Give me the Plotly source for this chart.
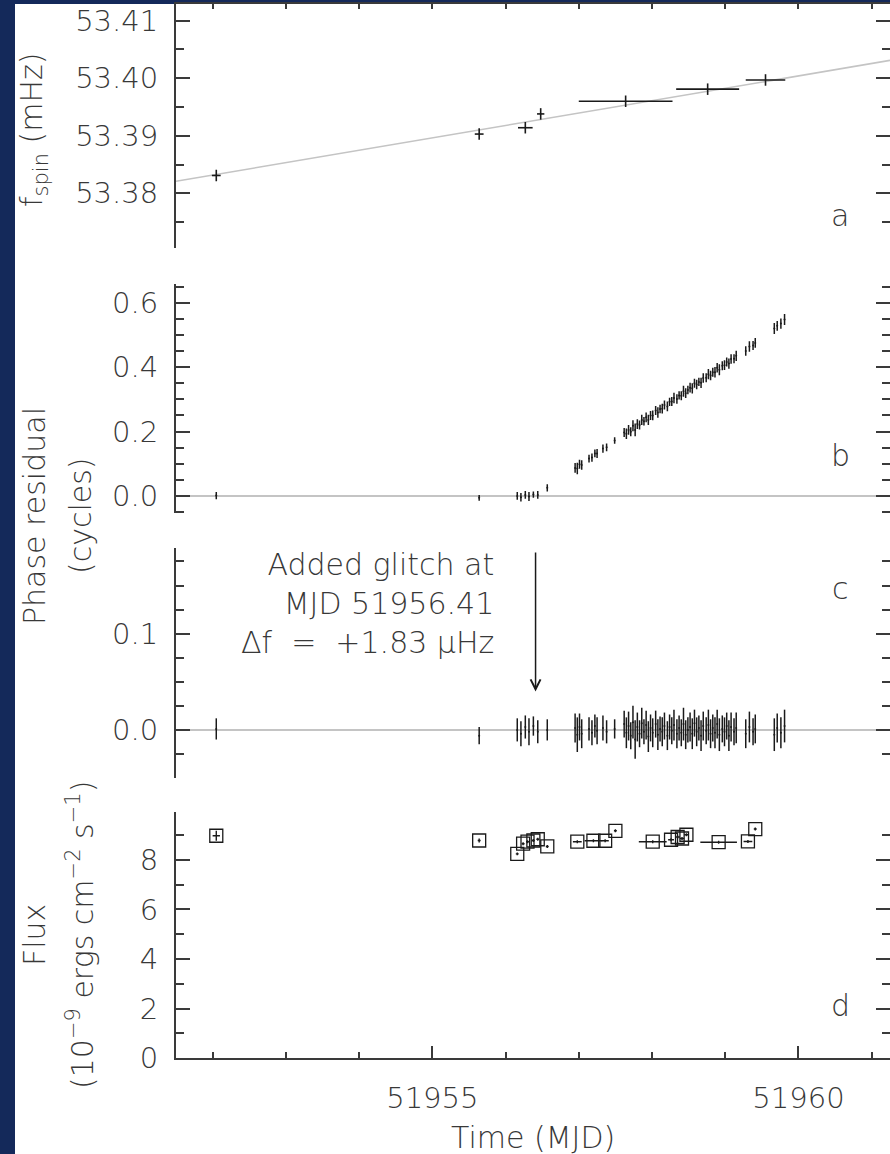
import plotly.graph_objects as go

W, H = 890, 1154

# ---------------- data ----------------
# panel a: spin frequency (mHz)
fs_t = [51952.05, 51955.64, 51956.27, 51956.48, 51957.64, 51958.76, 51959.55]
fs_f = [53.3831, 53.3903, 53.3914, 53.3938, 53.3960, 53.3981, 53.3997]
fs_terr = [0.06, 0.06, 0.10, 0.05, 0.64, 0.43, 0.27]
fs_ferr = [0.0010, 0.0010, 0.0010, 0.0010, 0.0010, 0.0010, 0.0010]
fit_t = [51951.5, 51961.25]
fit_f = [53.3821, 53.4031]

# panels b, c: phase residuals (cycles)
ph_t = [51952.05, 51955.64, 51956.16, 51956.21, 51956.27, 51956.32, 51956.38, 51956.44,
        51956.57, 51956.95, 51956.98, 51957.01, 51957.04, 51957.14, 51957.18, 51957.22,
        51957.25, 51957.33, 51957.38, 51957.49, 51957.62, 51957.65, 51957.68, 51957.71,
        51957.74, 51957.77, 51957.80, 51957.83, 51957.86, 51957.89, 51957.92, 51957.95,
        51957.98, 51958.01, 51958.05, 51958.08, 51958.11, 51958.14, 51958.17, 51958.21,
        51958.24, 51958.27, 51958.30, 51958.34, 51958.37, 51958.40, 51958.43, 51958.46,
        51958.49, 51958.52, 51958.55, 51958.58, 51958.61, 51958.64, 51958.67, 51958.70,
        51958.74, 51958.77, 51958.80, 51958.83, 51958.86, 51958.89, 51958.92, 51958.96,
        51958.99, 51959.02, 51959.05, 51959.08, 51959.12, 51959.15, 51959.28, 51959.33,
        51959.38, 51959.41, 51959.67, 51959.71, 51959.76, 51959.81]
ph_before = [0.001, -0.006, 0.000, -0.004, 0.003, -0.002, 0.004, 0.003,
             0.025, 0.087, 0.085, 0.098, 0.096, 0.116, 0.119, 0.132,
             0.132, 0.147, 0.151, 0.172, 0.197, 0.193, 0.205, 0.199,
             0.218, 0.205, 0.223, 0.220, 0.236, 0.232, 0.244, 0.236,
             0.250, 0.250, 0.265, 0.259, 0.270, 0.271, 0.282, 0.278,
             0.292, 0.293, 0.304, 0.301, 0.312, 0.311, 0.325, 0.319,
             0.329, 0.336, 0.334, 0.350, 0.346, 0.354, 0.351, 0.366,
             0.367, 0.378, 0.374, 0.384, 0.384, 0.398, 0.392, 0.404,
             0.406, 0.416, 0.411, 0.425, 0.426, 0.435, 0.450, 0.464,
             0.467, 0.475, 0.520, 0.528, 0.535, 0.548]
ph_after = [0.001, -0.006, 0.000, -0.004, 0.003, -0.002, 0.004, -0.002,
            0.000, 0.002, -0.005, 0.003, -0.004, 0.001, -0.003, 0.004,
            -0.001, 0.002, -0.002, 0.001, 0.006, -0.003, 0.004, -0.006,
            0.008, -0.010, 0.003, -0.004, 0.007, -0.002, 0.005, -0.007,
            0.002, -0.003, 0.006, -0.005, 0.001, -0.002, 0.004, -0.006,
            0.003, -0.001, 0.005, -0.004, 0.002, -0.003, 0.006, -0.005,
            0.000, 0.003, -0.004, 0.007, -0.002, 0.002, -0.006, 0.004,
            -0.001, 0.005, -0.004, 0.002, -0.003, 0.006, -0.005, 0.001,
            -0.002, 0.004, -0.006, 0.003, -0.002, 0.002, -0.004, 0.003,
            -0.002, 0.001, -0.005, 0.002, -0.003, 0.004]
ph_err = [0.011, 0.009, 0.012, 0.013, 0.012, 0.014, 0.010, 0.012,
          0.011, 0.015, 0.018, 0.014, 0.015, 0.012, 0.013, 0.012,
          0.014, 0.013, 0.012, 0.010, 0.014, 0.016, 0.015, 0.014,
          0.017, 0.020, 0.015, 0.014, 0.016, 0.013, 0.015, 0.016,
          0.014, 0.015, 0.014, 0.016, 0.013, 0.015, 0.014, 0.015,
          0.013, 0.014, 0.016, 0.015, 0.013, 0.014, 0.017, 0.015,
          0.013, 0.015, 0.016, 0.014, 0.015, 0.013, 0.016, 0.015,
          0.014, 0.016, 0.015, 0.014, 0.016, 0.015, 0.017, 0.014,
          0.015, 0.014, 0.016, 0.015, 0.014, 0.016, 0.015, 0.016,
          0.014, 0.015, 0.017, 0.015, 0.016, 0.017]
zero_line = [0.0, 0.0]

# glitch
glitch_t = 51956.41
glitch_text = ["Added glitch at", "MJD 51956.41", "\u0394f  =  +1.83 \u03bcHz"]

# panel d: flux (1e-9 erg cm^-2 s^-1)
flux_t = [51952.05, 51955.64, 51956.16, 51956.24, 51956.30, 51956.38, 51956.44, 51956.57,
          51956.98, 51957.20, 51957.36, 51957.50, 51958.01, 51958.26, 51958.35, 51958.41,
          51958.47, 51958.91, 51959.31, 51959.41]
flux = [8.97, 8.78, 8.24, 8.65, 8.73, 8.78, 8.83, 8.54,
        8.73, 8.77, 8.77, 9.17, 8.73, 8.81, 8.92, 8.86,
        9.01, 8.71, 8.74, 9.24]
flux_terr = [0.05, 0.02, 0.02, 0.02, 0.02, 0.02, 0.02, 0.02,
             0.06, 0.12, 0.05, 0.02, 0.19, 0.04, 0.03, 0.03,
             0.03, 0.25, 0.06, 0.02]
flux_err = [0.20, 0.08, 0.06, 0.06, 0.06, 0.06, 0.06, 0.06,
            0.06, 0.06, 0.06, 0.06, 0.06, 0.06, 0.06, 0.06,
            0.06, 0.06, 0.06, 0.06]

# axes / ticks
x_range = [51951.5, 51961.25]
x_major = [51955, 51960]
x_minor = [51952, 51953, 51954, 51956, 51957, 51958, 51959, 51961]
x_top = [51952, 51953, 51954, 51955, 51956, 51957, 51958, 51959, 51960, 51961]

ya_range = [53.3705, 53.4129]
ya_major = [53.38, 53.39, 53.40, 53.41]
ya_minor = [53.375, 53.385, 53.395, 53.405]
yb_range = [-0.054, 0.658]
yb_major = [0.0, 0.2, 0.4, 0.6]
yb_minor = [-0.05, 0.05, 0.1, 0.15, 0.25, 0.3, 0.35, 0.45, 0.5, 0.55, 0.65]
yc_range = [-0.05, 0.189]
yc_major = [0.0, 0.1]
yc_minor = [-0.025, 0.025, 0.05, 0.075, 0.125, 0.15, 0.175]
yd_range = [0, 9.94]
yd_major = [0, 2, 4, 6, 8]
yd_minor = [1, 3, 5, 7, 9]

# ---------------- style ----------------
NAVY = "#14295a"
AX = "#3a3a3a"
TXT = "#383838"
FONT = "DejaVu Sans"
FW = 200
FS = 29      # tick labels
FS2 = 30     # titles / annotations
MARK = "#1a1a1a"
GRAY = "#c4c4c4"

def py(p):
    return 1 - p / H

def px(p):
    return p / W

xdom = [px(176), 1.0]
doms = {
    "a": [py(248), py(4)],
    "b": [py(513.3), py(284)],
    "c": [py(778), py(548)],
    "d": [py(1058.3), py(811.7)],
}

fig = go.Figure()

# panel a
fig.add_trace(go.Scatter(x=fit_t, y=fit_f, mode="lines", line=dict(color=GRAY, width=1.6),
                         xaxis="x", yaxis="y", hoverinfo="skip"))
fig.add_trace(go.Scatter(x=fs_t, y=fs_f, mode="markers", marker=dict(size=1, color=MARK),
                         error_x=dict(type="data", array=fs_terr, width=0, thickness=1.6, color=MARK),
                         error_y=dict(type="data", array=fs_ferr, width=0, thickness=1.6, color=MARK),
                         xaxis="x", yaxis="y"))
# panel b
fig.add_trace(go.Scatter(x=x_range, y=zero_line, mode="lines", line=dict(color=GRAY, width=2),
                         xaxis="x2", yaxis="y2", hoverinfo="skip"))
fig.add_trace(go.Scatter(x=ph_t, y=ph_before, mode="markers", marker=dict(size=2, color=MARK),
                         error_y=dict(type="data", array=ph_err, width=0, thickness=1.5, color=MARK),
                         xaxis="x2", yaxis="y2"))
# panel c
fig.add_trace(go.Scatter(x=x_range, y=zero_line, mode="lines", line=dict(color=GRAY, width=2),
                         xaxis="x3", yaxis="y3", hoverinfo="skip"))
fig.add_trace(go.Scatter(x=ph_t, y=ph_after, mode="markers", marker=dict(size=2, color=MARK),
                         error_y=dict(type="data", array=ph_err, width=0, thickness=1.5, color=MARK),
                         xaxis="x3", yaxis="y3"))
# panel d
fig.add_trace(go.Scatter(x=flux_t, y=flux, mode="markers",
                         marker=dict(symbol="square-open", size=13, color=MARK, line=dict(width=1.3)),
                         error_x=dict(type="data", array=flux_terr, width=0, thickness=1.4, color=MARK),
                         error_y=dict(type="data", array=flux_err, width=0, thickness=1.4, color=MARK),
                         xaxis="x4", yaxis="y4"))
# right-side mirror tick axes (empty traces)
for i in range(5, 9):
    fig.add_trace(go.Scatter(x=[], y=[], xaxis="x" if i == 5 else f"x{i-4}", yaxis=f"y{i}",
                             showlegend=False, hoverinfo="skip"))

tickfont = dict(family=FONT, size=FS, color=TXT, weight=FW)

def yax(dom, rng, major, minor, fmt, anchor):
    return dict(domain=dom, range=rng, anchor=anchor, showgrid=False, zeroline=False,
                showline=True, linecolor=AX, linewidth=2, ticks="inside", tickcolor=AX,
                tickwidth=1.6, ticklen=14, tickvals=major, ticktext=[fmt.format(v) for v in major],
                tickfont=tickfont, ticklabelstandoff=10, automargin=False, fixedrange=True,
                minor=dict(tickvals=minor, ticks="inside", ticklen=8, tickwidth=1.6, tickcolor=AX))

def yax_r(over, rng, major, minor, anchor):
    return dict(overlaying=over, side="right", range=rng, anchor=anchor, showgrid=False,
                zeroline=False, showline=False, ticks="inside", tickcolor=AX, tickwidth=1.6,
                ticklen=14, tickvals=major, showticklabels=False, automargin=False,
                minor=dict(tickvals=minor, ticks="inside", ticklen=8, tickwidth=1.6, tickcolor=AX))

def xax_hidden(anchor):
    return dict(domain=xdom, range=x_range, anchor=anchor, showgrid=False, zeroline=False,
                showline=False, ticks="", showticklabels=False, automargin=False, fixedrange=True)

layout = dict(
    width=W, height=H, margin=dict(l=0, r=0, t=0, b=0, pad=0),
    paper_bgcolor=NAVY, plot_bgcolor="rgba(0,0,0,0)", showlegend=False,
    font=dict(family=FONT, size=FS, color=TXT, weight=FW),
    xaxis=dict(domain=xdom, range=x_range, anchor="y", side="top", showgrid=False, zeroline=False,
               showline=True, linecolor=AX, linewidth=2, ticks="inside", ticklen=5, tickwidth=1.6,
               tickcolor=AX, tickvals=x_top, showticklabels=False, automargin=False, fixedrange=True),
    xaxis2=xax_hidden("y2"),
    xaxis3=xax_hidden("y3"),
    xaxis4=dict(domain=xdom, range=x_range, anchor="y4", side="bottom", showgrid=False, zeroline=False,
                showline=True, linecolor=AX, linewidth=2, ticks="inside", ticklen=12, tickwidth=1.6,
                tickcolor=AX, tickvals=x_major, ticktext=[str(v) for v in x_major], tickfont=tickfont,
                ticklabelstandoff=13, automargin=False, fixedrange=True,
                minor=dict(tickvals=x_minor, ticks="inside", ticklen=6, tickwidth=1.6, tickcolor=AX)),
    yaxis=yax(doms["a"], ya_range, ya_major, ya_minor, "{:.2f}", "x"),
    yaxis2=yax(doms["b"], yb_range, yb_major, yb_minor, "{:.1f}", "x2"),
    yaxis3=yax(doms["c"], yc_range, yc_major, yc_minor, "{:.1f}", "x3"),
    yaxis4=yax(doms["d"], yd_range, yd_major, yd_minor, "{:d}", "x4"),
    yaxis5=yax_r("y", ya_range, ya_major, ya_minor, "x"),
    yaxis6=yax_r("y2", yb_range, yb_major, yb_minor, "x2"),
    yaxis7=yax_r("y3", yc_range, yc_major, yc_minor, "x3"),
    yaxis8=yax_r("y4", yd_range, yd_major, yd_minor, "x4"),
)
fig.update_layout(**layout)

# white page area (navy border left/top)
fig.add_shape(type="rect", xref="paper", yref="paper", x0=px(15), x1=1, y0=0, y1=py(4),
              fillcolor="white", line=dict(width=0), layer="below")

ann = []
def A(text, x, y, **kw):
    d = dict(text=text, x=x, y=y, xref="paper", yref="paper", showarrow=False,
             font=dict(family=FONT, size=FS2, color=TXT, weight=FW), xanchor="center", yanchor="middle")
    d.update(kw)
    ann.append(d)

# panel letters
for lab, yy in [("a", 216), ("b", 455), ("c", 588), ("d", 1005)]:
    A(lab, px(840), py(yy))
# axis titles
A("f<sub>spin</sub> (mHz)", px(34), py(130), textangle=-90)
A("Phase residual", px(34), py(516), textangle=-90)
A("(cycles)", px(80), py(516), textangle=-90)
A("Flux", px(34), py(935), textangle=-90)
A("(10<sup>\u22129</sup> ergs cm<sup>\u22122</sup> s<sup>\u22121</sup>)", px(80), py(935), textangle=-90)
A("Time (MJD)", px(533), py(1137))
# glitch text
A("<br>".join(glitch_text), px(496), py(603), xanchor="right", align="right")
# glitch arrow
ann.append(dict(x=glitch_t, y=0.04, ax=glitch_t, ay=0.186, xref="x3", yref="y3", axref="x3",
                ayref="y3", showarrow=True, arrowhead=5, arrowsize=1.3, arrowwidth=1.5,
                arrowcolor=MARK, text=""))
fig.update_layout(annotations=ann)

fig.write_html("out.html")
